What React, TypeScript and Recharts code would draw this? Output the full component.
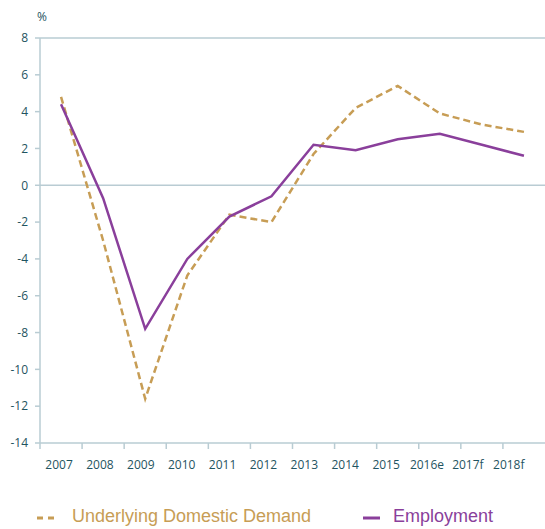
import React from "react";
import { LineChart, Line, XAxis, YAxis, ReferenceLine } from "recharts";

const categories = ["2007", "2008", "2009", "2010", "2011", "2012", "2013", "2014", "2015", "2016e", "2017f", "2018f"];
const domesticDemand = [4.8, -3.0, -11.6, -4.9, -1.6, -2.0, 1.7, 4.2, 5.4, 3.9, 3.3, 2.9];
const employment = [4.4, -0.7, -7.8, -4.0, -1.7, -0.6, 2.2, 1.9, 2.5, 2.8, 2.2, 1.6];
const yTicks = [-14, -12, -10, -8, -6, -4, -2, 0, 2, 4, 6, 8];

const data = categories.map((c, i) => ({ year: c, demand: domesticDemand[i], employment: employment[i] }));

const TAN = "#c79d55";
const PURPLE = "#8a3f9b";
const AXIS = "#b9ccd3";
const TEXT = "#1f5461";
const FONT = "'Open Sans', sans-serif";

const XTick = (props: any) => {
  const { x, y, payload, index } = props;
  const half = payload && payload.offset ? payload.offset : 21;
  const shift = -2 - (index || 0) * 1.2;
  return (
    <g>
      <line x1={x - half} y1={y} x2={x - half} y2={y + 6} stroke={AXIS} strokeWidth={1.5} />
      <text x={x + shift} y={y + 26} textAnchor="middle" fill={TEXT} fontSize={12} fontFamily={FONT}>
        {payload.value}
      </text>
    </g>
  );
};

export default function App() {
  return (
    <div style={{ position: "absolute", left: 0, top: 0, width: 545, height: 529, background: "#fff" }}>
      <div style={{ position: "absolute", left: 37, top: 8, fontSize: 12, color: TEXT, fontFamily: FONT }}>%</div>
      <LineChart width={545} height={529} data={data} margin={{ top: 38, right: 0, left: 0, bottom: 56 }}>
        <ReferenceLine y={8} stroke={AXIS} strokeWidth={1.5} />
        <ReferenceLine y={0} stroke={AXIS} strokeWidth={1.5} />
        <XAxis
          dataKey="year"
          scale="band"
          height={30}
          axisLine={{ stroke: AXIS, strokeWidth: 1.5 }}
          tickLine={false}
          tickSize={0}
          tickMargin={0}
          interval={0}
          tick={<XTick />}
        />
        <YAxis
          width={40}
          domain={[-14, 8]}
          ticks={yTicks}
          interval={0}
          axisLine={{ stroke: AXIS, strokeWidth: 1.5 }}
          tickLine={{ stroke: AXIS, strokeWidth: 1.5 }}
          tickSize={5}
          tickMargin={7}
          tick={{ fill: TEXT, fontSize: 12, fontFamily: FONT }}
        />
        <Line
          type="linear"
          dataKey="demand"
          stroke={TAN}
          strokeWidth={2.5}
          strokeDasharray="7 4"
          dot={false}
          isAnimationActive={false}
        />
        <Line
          type="linear"
          dataKey="employment"
          stroke={PURPLE}
          strokeWidth={2.5}
          dot={false}
          isAnimationActive={false}
        />
      </LineChart>
      <div style={{ position: "absolute", left: 0, top: 506, width: 545, height: 24, fontFamily: "'Liberation Sans', Arial, sans-serif", fontSize: 18 }}>
        <svg style={{ position: "absolute", left: 37, top: 10 }} width={22} height={4}>
          <line x1={0} y1={2} x2={20} y2={2} stroke={TAN} strokeWidth={3} strokeDasharray="6 5" />
        </svg>
        <span style={{ position: "absolute", left: 72, top: 0, color: TAN, whiteSpace: "nowrap" }}>Underlying Domestic Demand</span>
        <svg style={{ position: "absolute", left: 363, top: 10 }} width={18} height={4}>
          <line x1={0} y1={2} x2={17} y2={2} stroke={PURPLE} strokeWidth={3} />
        </svg>
        <span style={{ position: "absolute", left: 393, top: 0, color: PURPLE, whiteSpace: "nowrap" }}>Employment</span>
      </div>
    </div>
  );
}
